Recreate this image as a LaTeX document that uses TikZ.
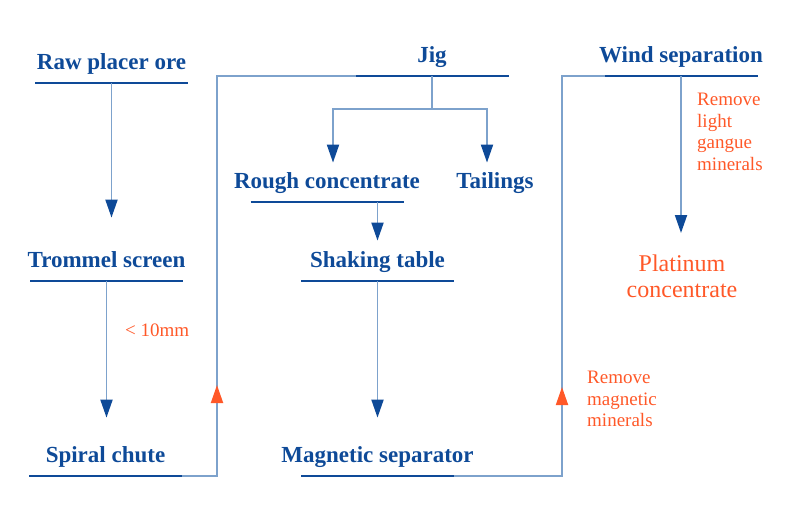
\documentclass[tikz,border=0pt]{standalone}
\usepackage{fontspec}
\setmainfont{Liberation Serif}
\usepackage{tikz}
\usetikzlibrary{arrows.meta}
\definecolor{stageblue}{RGB}{14,74,152}
\definecolor{pipeblue}{RGB}{125,162,204}
\definecolor{noteorange}{RGB}{255,88,40}
\tikzset{%
  stage/.style = {anchor=south, inner xsep=0pt, inner ysep=7pt,%
                  text height=16pt, text depth=6pt,%
                  text=stageblue, font=\bfseries\fontsize{23}{27}\selectfont},%
  uline/.style = {draw=stageblue, line width=2.4pt},%
  pipe/.style  = {draw=pipeblue, line width=1.9pt},%
  feed/.style  = {pipe, -{Triangle[width=12pt,length=18pt,color=stageblue]}},%
  back/.style  = {pipe, -{Triangle[width=12pt,length=18pt,color=noteorange]}},%
  note/.style  = {text=noteorange, align=left, inner sep=0pt,%
                  font=\fontsize{19}{21.5}\selectfont}%
}

\begin{document}
\begin{tikzpicture}[x=1pt,y=-1pt]
	\useasboundingbox (0,0) rectangle (800,530);
	% steps, placed by their underlines
	\node [stage] (raw)      at (111.5,83)  {Raw placer ore};
	\node [stage] (trommel)  at (106.5,281) {Trommel screen};
	\node [stage] (spiral)   at (105.5,476) {Spiral chute};
	\node [stage] (jig)      at (432,76)    {Jig};
	\node [stage] (rough)    at (327,202)   {Rough concentrate};
	\node [stage] (tailings) at (495,202)   {Tailings};
	\node [stage] (shaking)  at (377.5,281) {Shaking table};
	\node [stage] (magnetic) at (377.5,476) {Magnetic separator};
	\node [stage] (wind)     at (681,76)    {Wind separation};
	\node [note, anchor=north, align=center, font=\fontsize{24}{26}\selectfont]
		(platinum) at (682,255) {Platinum\\concentrate};
	\foreach \n in {raw,trommel,spiral,jig,rough,shaking,magnetic,wind}
		\draw [uline] ([xshift=-76.5pt]\n.south) coordinate (\n-l)
			-- ([xshift=76.5pt]\n.south) coordinate (\n-r);
	% main flow
	\draw [feed, shorten >=27pt] (raw.south) -- (raw.south |- trommel.north);
	\draw [feed, shorten >=22pt] (trommel.south) -- (trommel.south |- spiral.north);
	\draw [pipe] (jig.south) -- ++(0,33) coordinate (split);
	\draw [feed, shorten >=3pt] (split) -| ([xshift=6pt]rough.north);
	\draw [feed, shorten >=3pt] (split) -| ([xshift=-8pt]tailings.north);
	\draw [feed, shorten >=4pt] (shaking.north |- rough.south) -- (shaking.north);
	\draw [feed, shorten >=22pt] (shaking.south) -- (magnetic.north);
	\draw [feed, shorten >=22pt] (wind.south) -- (wind.south |- platinum.north);
	% returns
	\draw [pipe] (spiral-r) -- ++(35,0) coordinate (up1) |- (jig-l);
	\draw [back] (up1) -- ++(0,-91);
	\draw [pipe] (magnetic-r) -- ++(108,0) coordinate (up2) |- (wind-l);
	\draw [back] (up2) -- ++(0,-89);
	% notes
	\node [note, anchor=west] (sieve)    at (125,330) {< 10mm};
	\node [note, anchor=west] (demag)    at (587,399) {Remove\\magnetic\\minerals};
	\node [note, anchor=west] (degangue) at (697,132) {Remove\\light\\gangue\\minerals};
\end{tikzpicture}
\end{document}
